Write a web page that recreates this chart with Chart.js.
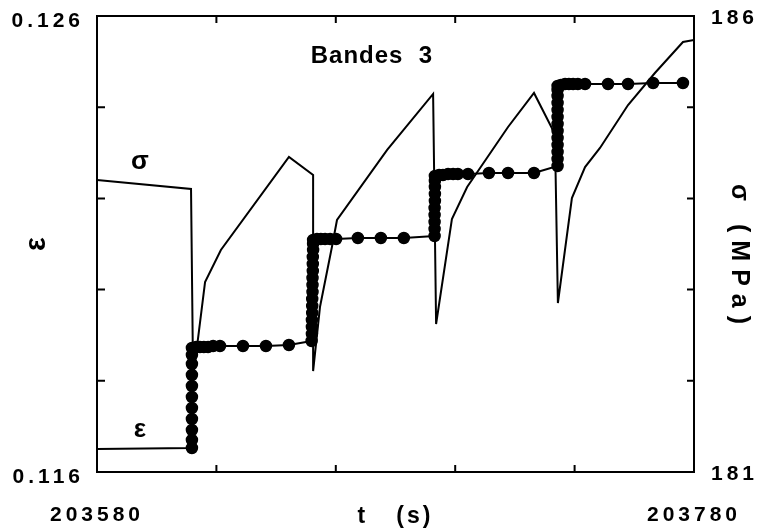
<!DOCTYPE html>
<html><head><meta charset="utf-8">
<script src="https://cdn.jsdelivr.net/npm/chart.js@4.4.1/dist/chart.umd.min.js"></script>
<style>html,body{margin:0;padding:0;background:#fff;}canvas{display:block;}</style>
</head><body>
<canvas id="c" width="757" height="532"></canvas>
<script>
// ---- axis ranges and tick labels ----
const timeRange = [203580, 203780];
const epsRange = [0.116, 0.126];
const sigmaRange = [181, 186];
const timeTickLabels = ['203580', '203780'];
const epsTickLabels = ['0.116', '0.126'];
const sigmaTickLabels = ['181', '186'];

// ---- strain ε (dots), time in s ----
const epsTime = [
  203580.0,
  203611.8, 203611.8, 203611.8, 203611.8, 203611.8, 203611.8, 203611.8, 203611.8, 203611.8, 203611.8, 203611.8,
  203613.2, 203614.5, 203615.8, 203617.2, 203618.9, 203621.2, 203628.9, 203636.6, 203644.3,
  203651.9, 203652.0, 203652.0, 203652.0, 203652.1, 203652.1, 203652.1, 203652.2, 203652.2, 203652.2, 203652.3, 203652.3, 203652.3, 203652.4, 203652.4, 203652.4,
  203653.7, 203655.0, 203656.4, 203658.1, 203660.1, 203667.4, 203675.1, 203682.8,
  203693.1, 203693.1, 203693.1, 203693.1, 203693.1, 203693.2, 203693.2, 203693.2, 203693.2, 203693.2,
  203694.6, 203695.9, 203697.6, 203699.3, 203700.9, 203704.3, 203711.3, 203717.7, 203726.4,
  203734.3, 203734.3, 203734.3, 203734.3, 203734.3, 203734.3, 203734.3, 203734.3, 203734.3, 203734.3, 203734.3, 203734.3, 203734.3,
  203735.4, 203736.8, 203738.1, 203739.5, 203741.1, 203743.5, 203751.2, 203757.9, 203766.3, 203776.3
];
const epsValues = [
  0.116504,
  0.116526, 0.116702, 0.116921, 0.117162, 0.117404, 0.117645, 0.117886, 0.118127, 0.118368, 0.118566, 0.118719,
  0.118741, 0.118741, 0.118741, 0.118741, 0.118763, 0.118763, 0.118763, 0.118763, 0.118785,
  0.118873, 0.119026, 0.119180, 0.119333, 0.119487, 0.119640, 0.119794, 0.119947, 0.120101, 0.120254, 0.120408, 0.120561, 0.120715, 0.120868, 0.121000, 0.121088,
  0.121110, 0.121110, 0.121110, 0.121110, 0.121110, 0.121132, 0.121132, 0.121132,
  0.121175, 0.121329, 0.121482, 0.121636, 0.121789, 0.121943, 0.122096, 0.122250, 0.122382, 0.122491,
  0.122513, 0.122513, 0.122535, 0.122535, 0.122535, 0.122535, 0.122557, 0.122557, 0.122557,
  0.122711, 0.122864, 0.123018, 0.123171, 0.123325, 0.123478, 0.123632, 0.123785, 0.123939, 0.124092, 0.124246, 0.124377, 0.124465,
  0.124487, 0.124509, 0.124509, 0.124509, 0.124509, 0.124509, 0.124509, 0.124509, 0.124531, 0.124531
];

// ---- stress σ (MPa) ----
const sigmaTime = [
  203580.0, 203611.5, 203612.2, 203616.2, 203621.5, 203644.3, 203652.4, 203652.4,
  203654.7, 203658.7, 203660.4, 203677.2, 203692.6, 203693.6, 203698.9, 203704.0,
  203717.7, 203726.4, 203733.4, 203734.4, 203739.1, 203743.5, 203748.5, 203757.9,
  203766.9, 203776.3, 203780.0
];
const sigmaValues = [
  184.202, 184.103, 182.031, 183.083, 183.434, 184.454, 184.257, 182.107,
  182.809, 183.467, 183.763, 184.531, 185.145, 182.623, 183.774, 184.125,
  184.783, 185.156, 184.706, 182.853, 184.004, 184.344, 184.553, 185.024,
  185.375, 185.715, 185.737
];

// ---- text annotations ----
const chartTitle = 'Bandes  3';
const annotations = [
  {text: chartTitle, t: 203672.1, v: 0.125123, axis: 'y', size: 24},
  {text: 'σ', t: 203594.4, v: 184.40, axis: 'y2', size: 26},
  {text: 'ε', t: 203594.4, v: 0.116921, axis: 'y', size: 26}
];

const FONT = "'Liberation Sans', Arial, Helvetica, sans-serif";

const frame = {
  id: 'frame',
  beforeDraw(chart) { chart.ctx.letterSpacing = '4px'; },
  afterDatasetsDraw(chart) {
    const {ctx, chartArea: a, scales} = chart;
    ctx.save();
    ctx.strokeStyle = '#000';
    ctx.lineWidth = 2;
    ctx.strokeRect(a.left, a.top, a.right - a.left, a.bottom - a.top);
    const L = 7;
    ctx.beginPath();
    scales.x.ticks.forEach(tk => {
      if (tk.value <= scales.x.min || tk.value >= scales.x.max) return;
      const p = scales.x.getPixelForValue(tk.value);
      ctx.moveTo(p, a.top); ctx.lineTo(p, a.top + L);
      ctx.moveTo(p, a.bottom); ctx.lineTo(p, a.bottom - L);
    });
    scales.y.ticks.forEach((tk, i) => {
      if (i === 0 || i === scales.y.ticks.length - 1) return;
      const p = scales.y.getPixelForValue(tk.value);
      ctx.moveTo(a.left, p); ctx.lineTo(a.left + L + 1, p);
    });
    scales.y2.ticks.forEach((tk, i) => {
      if (i === 0 || i === scales.y2.ticks.length - 1) return;
      const p = scales.y2.getPixelForValue(tk.value);
      ctx.moveTo(a.right, p); ctx.lineTo(a.right - L, p);
    });
    ctx.stroke();
    ctx.fillStyle = '#000';
    ctx.textAlign = 'center';
    ctx.textBaseline = 'middle';
    annotations.forEach(an => {
      ctx.font = 'bold ' + an.size + 'px ' + FONT;
      ctx.letterSpacing = an.text === chartTitle ? '1px' : '0px';
      const x = scales.x.getPixelForValue(an.t);
      const y = scales[an.axis].getPixelForValue(an.v);
      ctx.fillText(an.text, x, y);
    });
    ctx.restore();
  }
};

const tickFont = {family: FONT, size: 21, weight: 'bold'};
const endLabel = (labels) => function (value, index, ticks) {
  if (index === 0) return labels[0];
  if (index === ticks.length - 1) return labels[1];
  return '';
};
// fixed scale sizes, no extra label padding around the plot
const fixSize = (prop, size) => s => {
  s[prop] = size;
  s.paddingTop = 0; s.paddingBottom = 0; s.paddingLeft = 0; s.paddingRight = 0;
};
// title tweak: letter spacing and shift along the axis
const titleStyle = (spacing, shift) => s => {
  if (s._titleWrapped) return;
  const orig = s.drawTitle.bind(s);
  s.drawTitle = function () {
    const c = this.ctx;
    c.save();
    c.letterSpacing = spacing;
    c.translate(0, shift);
    orig();
    c.restore();
  };
  s._titleWrapped = true;
};

new Chart(document.getElementById('c'), {
  type: 'line',
  data: {
    datasets: [
      {
        label: 'ε',
        data: epsTime.map((t, i) => ({x: t, y: epsValues[i]})),
        yAxisID: 'y',
        borderColor: '#000',
        backgroundColor: '#000',
        borderWidth: 2,
        pointRadius: ctx => ctx.dataIndex === 0 ? 0 : 5.5,
        pointBorderWidth: 1.5,
        pointBackgroundColor: '#000',
        pointBorderColor: '#000',
        tension: 0
      },
      {
        label: 'σ',
        data: sigmaTime.map((t, i) => ({x: t, y: sigmaValues[i]})),
        yAxisID: 'y2',
        borderColor: '#000',
        borderWidth: 2,
        pointRadius: 0,
        tension: 0
      }
    ]
  },
  options: {
    responsive: false,
    animation: false,
    devicePixelRatio: 1,
    layout: {padding: {top: 16, left: 0, right: 0, bottom: 0}},
    plugins: {legend: {display: false}, tooltip: {enabled: false}},
    scales: {
      x: {
        type: 'linear',
        position: 'bottom',
        min: timeRange[0], max: timeRange[1],
        afterFit: fixSize('height', 60),
        afterUpdate: titleStyle('3px', 0),
        grid: {display: true, drawOnChartArea: false, drawTicks: false},
        border: {display: false},
        ticks: {stepSize: 40, autoSkip: false, maxRotation: 0, padding: 31, color: '#000', font: tickFont,
                callback: endLabel(timeTickLabels)},
        title: {display: true, text: 't   (s)', color: '#000', font: {family: FONT, size: 23, weight: 'bold'},
                padding: {top: 0, bottom: 2}}
      },
      y: {
        type: 'linear',
        position: 'left',
        min: epsRange[0], max: epsRange[1],
        afterFit: fixSize('width', 97),
        afterUpdate: titleStyle('0px', 0),
        grid: {display: true, drawOnChartArea: false, drawTicks: false},
        border: {display: false},
        ticks: {stepSize: 0.002, autoSkip: false, padding: 13, labelOffset: 5, color: '#000', font: tickFont,
                callback: endLabel(epsTickLabels)},
        title: {display: true, text: 'ε', color: '#000', font: {family: FONT, size: 29, weight: 'bold'},
                padding: {top: 20, bottom: 0}}
      },
      y2: {
        type: 'linear',
        position: 'right',
        min: sigmaRange[0], max: sigmaRange[1],
        afterFit: fixSize('width', 63),
        afterUpdate: titleStyle('8px', 14),
        grid: {display: true, drawOnChartArea: false, drawTicks: false},
        border: {display: false},
        ticks: {stepSize: 1, autoSkip: false, padding: 17, labelOffset: 2, color: '#000', font: tickFont,
                callback: endLabel(sigmaTickLabels)},
        title: {display: true, text: 'σ (MPa)', color: '#000', font: {family: FONT, size: 25, weight: 'bold'},
                padding: {top: 3, bottom: 0}}
      }
    }
  },
  plugins: [frame]
});
</script>
</body></html>
